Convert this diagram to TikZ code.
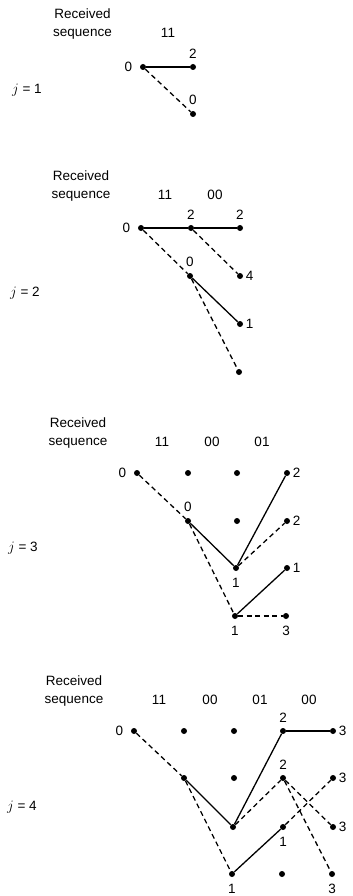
\documentclass[tikz,border=0pt]{standalone}
\usepackage{fontspec}
\setmainfont{Liberation Sans}
\usepackage{tikz}
\usetikzlibrary{positioning}

\begin{document}
\begin{tikzpicture}[
    x=1pt, y=-1pt,
    every node/.style={font=\fontsize{13.5}{18}\selectfont},
    vtx/.style={circle, fill=black, inner sep=0pt, minimum size=6pt},
    lbl/.style={inner sep=0pt},
    ml/.style={label={[lbl, label distance=7.5pt]left:#1}},
    ma/.style={label={[lbl, label distance=5.5pt]above:#1}},
    mr/.style={label={[lbl, label distance=2.5pt]right:#1}},
    mb/.style={label={[lbl, label distance=6.5pt]below:#1}},
    hdr/.style={align=center, inner sep=0pt},
    code/.style={inner sep=0pt},
    sol/.style={line width=1.3pt},
    dsh/.style={line width=1.3pt, dash pattern=on 5pt off 3.5pt},
]
  \useasboundingbox (0,0) rectangle (353,896);

  % j = 1
  \node[hdr] (hdr1) at (82.5,24.5) {Received\\sequence};
  \node[code] (r1a) at (168,33) {11};
  \node (j1) at (27,90) {$j$ = 1};
  \node[vtx, ml=0] (a0) at (143,67) {};
  \node[vtx, ma=2] (a1) at (193,67) {};
  \node[vtx, ma=0] (a2) at (193,114) {};
  \draw[sol] (a0) -- (a1);
  \draw[dsh] (a0) -- (a2);

  % j = 2
  \node[hdr] (hdr2) at (81,186) {Received\\sequence};
  \node[code] (r2a) at (165,195) {11};
  \node[code] (r2b) at (215,195) {00};
  \node (j2) at (25,293) {$j$ = 2};
  \node[vtx, ml=0] (b00) at (141,228) {};
  \node[vtx, ma=2] (b10) at (191,228) {};
  \node[vtx, ma=0] (b11) at (190,276) {};
  \node[vtx, ma=2] (b20) at (240,228) {};
  \node[vtx, mr=4] (b21) at (240,276) {};
  \node[vtx, mr=1] (b22) at (240,324) {};
  \node[vtx] (b23) at (239,372) {};
  \draw[sol] (b00) -- (b10);
  \draw[sol] (b10) -- (b20);
  \draw[dsh] (b00) -- (b11);
  \draw[dsh] (b10) -- (b21);
  \draw[sol] (b11) -- (b22);
  \draw[dsh] (b11) -- (b23);

  % j = 3
  \node[hdr] (hdr3) at (78,433) {Received\\sequence};
  \node[code] (r3a) at (162,442) {11};
  \node[code] (r3b) at (212,442) {00};
  \node[code] (r3c) at (262,442) {01};
  \node (j3) at (23,548) {$j$ = 3};
  \node[vtx, ml=0] (c00) at (137,473) {};
  \node[vtx] (c10) at (188,473) {};
  \node[vtx, ma=0] (c11) at (188,521) {};
  \node[vtx] (c20) at (237,473) {};
  \node[vtx] (c21) at (237,521) {};
  \node[vtx, mb=1] (c22) at (236,568) {};
  \node[vtx, mb=1] (c23) at (235,616) {};
  \node[vtx, mr=2] (c30) at (287,473) {};
  \node[vtx, mr=2] (c31) at (287,521) {};
  \node[vtx, mr=1] (c32) at (287,568) {};
  \node[vtx, mb=3] (c33) at (286,616) {};
  \draw[dsh] (c00) -- (c11);
  \draw[sol] (c11) -- (c22);
  \draw[dsh] (c11) -- (c23);
  \draw[sol] (c22) -- (c30);
  \draw[dsh] (c22) -- (c31);
  \draw[sol] (c23) -- (c32);
  \draw[dsh] (c23) -- (c33);

  % j = 4
  \node[hdr] (hdr4) at (74,691) {Received\\sequence};
  \node[code] (r4a) at (159,700) {11};
  \node[code] (r4b) at (210,700) {00};
  \node[code] (r4c) at (260,700) {01};
  \node[code] (r4d) at (309,700) {00};
  \node (j4) at (22,807) {$j$ = 4};
  \node[vtx, ml=0] (d00) at (134,731) {};
  \node[vtx] (d10) at (184,731) {};
  \node[vtx] (d11) at (184,778) {};
  \node[vtx] (d20) at (234,731) {};
  \node[vtx] (d21) at (234,778) {};
  \node[vtx] (d22) at (233,827) {};
  \node[vtx, mb=1] (d23) at (232,874) {};
  \node[vtx, ma=2] (d30) at (283,731) {};
  \node[vtx, ma=2] (d31) at (283,778) {};
  \node[vtx, mb=1] (d32) at (283,827) {};
  \node[vtx] (d33) at (282,874) {};
  \node[vtx, mr=3] (d40) at (333,731) {};
  \node[vtx, mr=3] (d41) at (333,778) {};
  \node[vtx, mr=3] (d42) at (333,827) {};
  \node[vtx, mb=3] (d43) at (332,874) {};
  \draw[dsh] (d00) -- (d11);
  \draw[sol] (d11) -- (d22);
  \draw[dsh] (d11) -- (d23);
  \draw[sol] (d22) -- (d30);
  \draw[dsh] (d22) -- (d31);
  \draw[sol] (d23) -- (d32);
  \draw[sol] (d30) -- (d40);
  \draw[dsh] (d31) -- (d42);
  \draw[dsh] (d31) -- (d43);
  \draw[dsh] (d32) -- (d41);
\end{tikzpicture}
\end{document}
